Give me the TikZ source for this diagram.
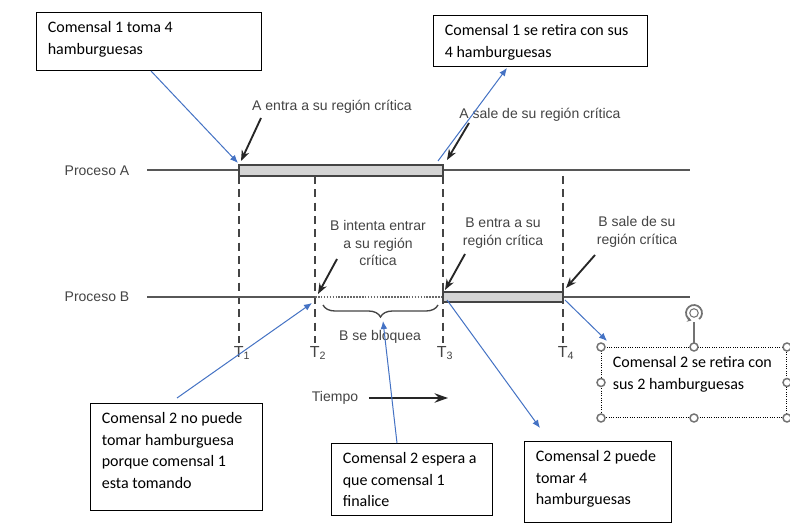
\documentclass[tikz,border=0pt]{standalone}
\usepackage{fontspec}
\setmainfont{Carlito}
\newfontfamily\scrfont{Liberation Sans}
\usetikzlibrary{arrows.meta,decorations.pathreplacing,calc}
\definecolor{scrgray}{HTML}{444444}
\definecolor{bargray}{HTML}{D4D4D4}
\definecolor{noteblue}{HTML}{4472C4}
\newcommand{\notetext}[3]{\parbox[t][#2][t]{#1}{\raggedright\rule{0pt}{15pt}#3}}
\tikzset{
  note/.style={draw=black, line width=0.75pt, anchor=north west, inner xsep=8.5pt, inner ysep=0pt,
    font=\fontsize{12}{16.3}\selectfont},
  scr/.style={text=scrgray, align=center, font=\scrfont\fontsize{10.5}{13}\selectfont},
  tlabel/.style={text=scrgray, font=\scrfont\fontsize{12}{14}\selectfont},
  proc/.style={draw=scrgray!90, line width=1.4pt},
  bar/.style={fill=bargray, draw=scrgray, line width=1.2pt},
  tline/.style={draw=scrgray, line width=1.1pt, dash pattern=on 6pt off 4pt},
  point/.style={-{Stealth[length=8pt,width=6pt]}, line width=1.4pt, draw=black!85},
  bluearrow/.style={-{Latex[length=6pt,width=5pt]}, line width=0.75pt, draw=noteblue},
  handle/.style={fill=white, draw=gray!90!black, line width=1.1pt}
}
\begin{document}
\begin{tikzpicture}[x=0.75pt,y=-0.75pt]
\useasboundingbox[fill=white] (0,0) rectangle (790,528);
% tiempos
\draw[tline] (239,176)--(239,343);
\draw[tline] (315,176)--(315,343);
\draw[tline] (443,176)--(443,343);
\draw[tline] (563,176)--(563,343);
\node[tlabel] (t1) at (242,353) {T\textsubscript{1}};
\node[tlabel] (t2) at (318,353) {T\textsubscript{2}};
\node[tlabel] (t3) at (445,353) {T\textsubscript{3}};
\node[tlabel] (t4) at (566,353) {T\textsubscript{4}};
% proceso A
\node[scr] (pa) at (97,171) {Proceso A};
\draw[proc] (147,170)--(690,170);
\draw[bar] (239,165) rectangle (443,176);
% proceso B
\node[scr] (pb) at (97,297) {Proceso B};
\draw[proc] (147,297)--(315,297);
\draw[draw=scrgray!80, line width=1.2pt, densely dotted] (315,297)--(443,297);
\draw[proc] (563,297)--(690,297);
\draw[bar] (443,292) rectangle (563,302);
\draw[scrgray, line width=1pt, decorate, decoration={brace, amplitude=9pt, mirror}] (323,305)--(438,305);
\coordinate (brace) at (383,321);
% puntos
\coordinate (aIn) at (238,163);
\coordinate (aOut) at (438,161);
\coordinate (bTry) at (312,303);
\coordinate (bIn) at (447,300);
\coordinate (bOut) at (565,300);
% textos
\node[scr] (la) at (332,107) {A entra a su región crítica};
\node[scr] (lb) at (540,115) {A sale de su región crítica};
\node[scr] (lc) at (378,243) {B intenta entrar\\a su región\\crítica};
\node[scr] (ld) at (503,233) {B entra a su\\región crítica};
\node[scr] (le) at (637,232) {B sale de su\\región crítica};
\node[scr] (lf) at (380,337) {B se bloquea};
\draw[point] (261,118)--(241,161);
\draw[point] (469,123)--(447,160);
\draw[point] (337,259)--(318,294);
\draw[point] (465,254)--(445,290);
\draw[point] (595,255)--(566,288);
\node[scr] (tiempo) at (335,398) {Tiempo};
\draw[-{Stealth[length=10pt,width=7pt]}, line width=1.5pt, draw=black!85] (tiempo.east)++(6,0)--(448,398);
% notas
\node[note] (b1) at (36,12) {\notetext{151.75pt}{43.5pt}{Comensal 1 toma 4\\hamburguesas}};
\node[note] (b2) at (433,15) {\notetext{143.5pt}{38.25pt}{Comensal 1 se retira con sus\\4 hamburguesas}};
\node[note] (b3) at (90,403) {\notetext{112pt}{80.25pt}{Comensal 2 no puede\\tomar hamburguesa\\porque comensal 1\\esta tomando}};
\node[note] (b4) at (331,443) {\notetext{103.75pt}{54pt}{Comensal 2 espera a\\que comensal 1\\finalice}};
\node[note] (b5) at (524,441) {\notetext{93.25pt}{60.75pt}{Comensal 2 puede\\tomar 4\\hamburguesas}};
\node[note, densely dotted] (b6) at (601,347) {\notetext{121.75pt}{52.5pt}{Comensal 2 se retira con\\sus 2 hamburguesas}};
\draw[bluearrow] ($(b1.south west)+(115,0)$)--(aIn);
\draw[bluearrow] (aOut)--($(b2.south west)+(74,1)$);
\draw[bluearrow] ($(b3.north west)+(87,-5)$)--(bTry);
\draw[bluearrow] ($(b4.north west)+(66,0)$)--(brace);
\draw[bluearrow] (bIn)--($(b5.north west)+(16,-13)$);
\draw[bluearrow] (bOut)--($(b6.north west)+(6,-6)$);
% seleccion
\coordinate (rot) at ($(b6.north)+(0,-34)$);
\draw[gray!90!black, line width=1.1pt] (b6.north)--($(rot)+(0,9)$);
\draw[gray!90!black, line width=1.3pt, -{Stealth[length=3pt,width=4pt]}] (rot)++(-50:6pt) arc[start angle=-50, end angle=250, radius=6pt];
\draw[gray!90!black, line width=0.8pt] (rot) circle[radius=3.2pt];
\foreach \a in {north west,north,north east,west,east,south west,south,south east}
  \draw[handle] (b6.\a) circle[radius=3pt];
\end{tikzpicture}
\end{document}
